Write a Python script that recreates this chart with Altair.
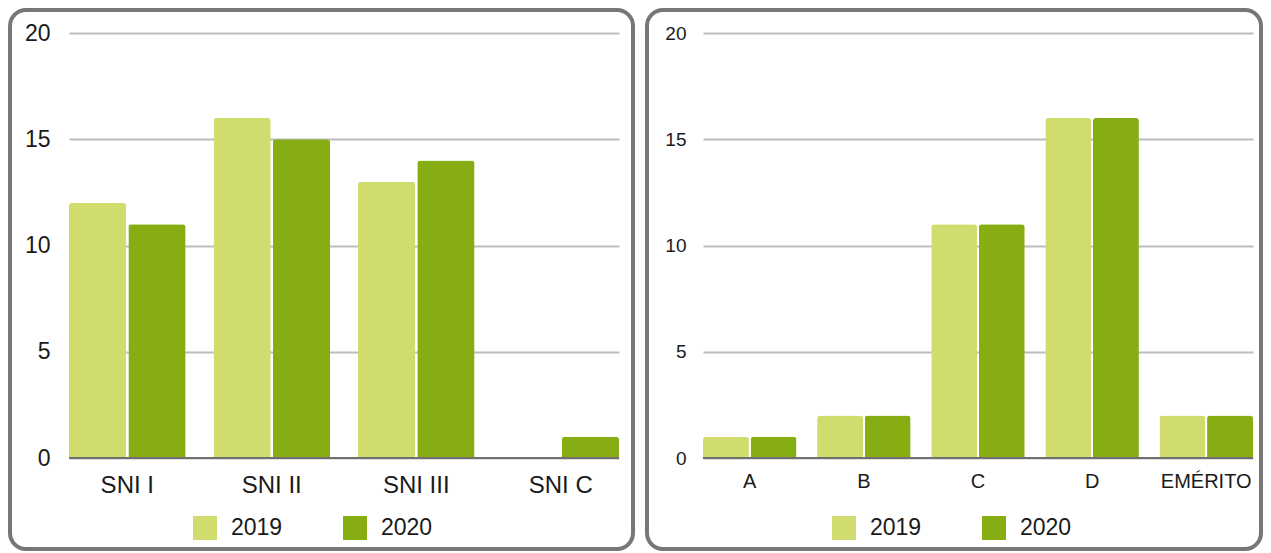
import altair as alt
import pandas as pd

years = ["2019", "2020"]
left_cats = ["SNI I", "SNI II", "SNI III", "SNI C"]
left_2019 = [12, 16, 13, 0]
left_2020 = [11, 15, 14, 1]
right_cats = ["A", "B", "C", "D", "EMÉRITO"]
right_2019 = [1, 2, 11, 16, 2]
right_2020 = [1, 2, 11, 16, 2]
y_ticks = [0, 5, 10, 15, 20]
colors = ["#d0dd6e", "#86ad12"]

FONT = "Liberation Sans"
TEXT = "#1a1a1a"


def long_table(cats, v19, v20):
    rows = []
    for c, a, b in zip(cats, v19, v20):
        rows.append({"cat": c, "year": years[0], "value": a})
        rows.append({"cat": c, "year": years[1], "value": b})
    return pd.DataFrame(rows)


def panel(cats, v19, v20, width, pad_inner, fs_y, fs_x, y_pad, x_pad, frame, leg_xy, leg_colpad):
    df = long_table(cats, v19, v20)
    fx0, fx1, fy0, fy1 = frame
    frame_layer = alt.Chart(pd.DataFrame({"f": [0]})).mark_rect(
        fill="white", fillOpacity=0, stroke="#777777", strokeWidth=4, cornerRadius=16
    ).encode(
        x=alt.value(fx0), x2=alt.value(fx1), y=alt.value(fy0), y2=alt.value(fy1)
    )
    bars = alt.Chart(df).mark_bar(cornerRadiusTopLeft=3, cornerRadiusTopRight=3).encode(
        x=alt.X(
            "cat:N", sort=cats,
            scale=alt.Scale(paddingInner=pad_inner, paddingOuter=0),
            axis=alt.Axis(title=None, labelAngle=0, labelFontSize=fs_x, labelPadding=x_pad,
                          domain=False, ticks=False, labelFont=FONT, labelColor=TEXT),
        ),
        xOffset=alt.XOffset("year:N", sort=years, scale=alt.Scale(paddingInner=0.035, paddingOuter=0)),
        y=alt.Y(
            "value:Q", scale=alt.Scale(domain=[0, 20], nice=False),
            axis=alt.Axis(title=None, values=y_ticks, labelFontSize=fs_y, labelPadding=y_pad,
                          domain=False, ticks=False, labelFont=FONT, labelColor=TEXT,
                          gridColor="#bdbdbd", gridWidth=2),
        ),
        color=alt.Color(
            "year:N", scale=alt.Scale(domain=years, range=colors),
            legend=alt.Legend(title=None, orient="none", legendX=leg_xy[0], legendY=leg_xy[1],
                              direction="horizontal", symbolType="square", symbolSize=576,
                              symbolStrokeWidth=0, symbolOpacity=1, labelFontSize=23,
                              labelOffset=14, columnPadding=leg_colpad, padding=0,
                              labelFont=FONT, labelColor=TEXT),
        ),
    )
    zero = alt.Chart(pd.DataFrame({"z": [0]})).mark_rule(color="#707070", strokeWidth=2).encode(
        y=alt.datum(0)
    )
    return alt.layer(frame_layer, bars, zero).properties(width=width, height=425)


left = panel(left_cats, left_2019, left_2020, 550, 0.193, 23, 24, 19, 15,
             (-59, 564, -23, 516), (124, 483), 60)
right = panel(right_cats, right_2019, right_2020, 550, 0.18, 19, 20, 17, 13,
              (-56, 558, -23, 516), (129, 483), 60)

chart = alt.hconcat(left, right, spacing=10).resolve_scale(
    color="independent", x="independent", y="independent", xOffset="independent"
).resolve_legend(color="independent").properties(padding=0).configure_view(strokeWidth=0)

chart.save("out.html", embed_options={"renderer": "svg", "actions": False})
